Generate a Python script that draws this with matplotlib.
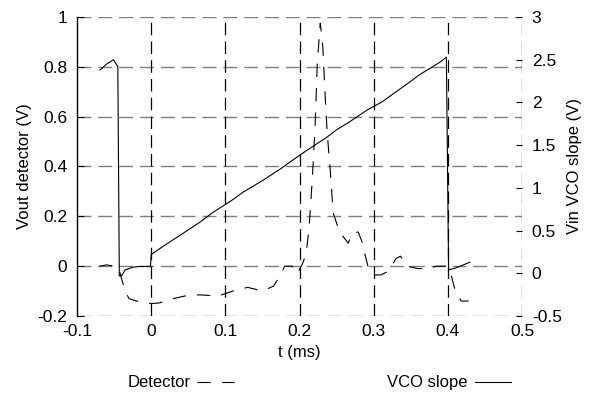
#!/usr/bin/env python3
import matplotlib as mpl
mpl.use('Agg')
import matplotlib.pyplot as plt
import numpy as np

mpl.rcParams['font.family'] = ['Liberation Sans', 'DejaVu Sans']

# detector output (left axis, V) vs time (ms)
det_t = [-0.070, -0.060, -0.050, -0.044, -0.040, -0.035, -0.030, -0.020, -0.010, 0.000,
         0.010, 0.020, 0.030, 0.045, 0.065, 0.090, 0.110, 0.130, 0.150, 0.165,
         0.174, 0.180, 0.190, 0.197, 0.204, 0.209, 0.213, 0.217, 0.221, 0.224,
         0.228, 0.2315, 0.2346, 0.237, 0.240, 0.2414, 0.2454, 0.2508, 0.2575, 0.2656,
         0.271, 0.279, 0.2845, 0.2885, 0.2926, 0.299, 0.310, 0.320, 0.330, 0.336,
         0.345, 0.360, 0.372, 0.385, 0.398, 0.404, 0.410, 0.418, 0.428]
det_v = [0.000, 0.005, 0.000, -0.005, -0.050, -0.100, -0.130, -0.140, -0.145, -0.150,
         -0.148, -0.140, -0.130, -0.120, -0.115, -0.120, -0.100, -0.085, -0.100, -0.080,
         -0.036, 0.000, 0.000, -0.030, 0.010, 0.050, 0.160, 0.340, 0.560, 0.820,
         0.975, 0.875, 0.680, 0.550, 0.434, 0.386, 0.213, 0.165, 0.124, 0.092,
         0.133, 0.137, 0.096, 0.044, -0.004, -0.036, -0.035, -0.020, 0.030, 0.040,
         0.000, -0.010, -0.010, 0.000, 0.000, -0.030, -0.100, -0.140, -0.140]

# VCO slope input (right axis, V) vs time (ms)
vco_t = [-0.069, -0.060, -0.051, -0.045, -0.043, -0.040, -0.035, -0.025, -0.015, -0.001,
         0.000, 0.022, 0.039, 0.066, 0.082, 0.109, 0.124, 0.151, 0.174, 0.190,
         0.205, 0.224, 0.235, 0.250, 0.267, 0.291, 0.311, 0.352, 0.361, 0.380,
         0.390, 0.398, 0.401, 0.410, 0.420, 0.4295]
vco_v = [2.38, 2.45, 2.50, 2.42, -0.03, -0.03, 0.04, 0.07, 0.08, 0.08,
         0.22, 0.35, 0.445, 0.60, 0.705, 0.856, 0.95, 1.09, 1.22, 1.32,
         1.41, 1.52, 1.58, 1.68, 1.77, 1.91, 2.005, 2.26, 2.32, 2.42,
         2.475, 2.53, 0.04, 0.06, 0.095, 0.13]

fig = plt.figure(figsize=(5.99, 3.94), dpi=100)
ax = fig.add_axes([0.1286, 0.198, 0.7429, 0.7589])
ax2 = ax.twinx()

grid_dash = (0, (10, 5))
ax.set_xlim(-0.1, 0.5)
ax.set_ylim(-0.2, 1.0)
ax2.set_ylim(-0.5, 3.0)
ax.set_xticks(np.arange(-0.1, 0.51, 0.1))
ax.set_xticklabels(['-0.1', '0', '0.1', '0.2', '0.3', '0.4', '0.5'])
ax.set_yticks(np.arange(-0.2, 1.01, 0.2))
ax.set_yticklabels(['-0.2', '0', '0.2', '0.4', '0.6', '0.8', '1'])
ax2.set_yticks(np.arange(-0.5, 3.01, 0.5))
ax2.set_yticklabels(['-0.5', '0', '0.5', '1', '1.5', '2', '2.5', '3'])

# grid: gray horizontal, black vertical
for y in np.arange(-0.2, 1.01, 0.2):
    ax.axhline(y, color='#7f7f7f', lw=1.0, ls=grid_dash, zorder=0)
for x in np.arange(0.0, 0.51, 0.1):
    ax.axvline(x, color='black', lw=0.9, ls=grid_dash, zorder=0)

for s in ['top', 'right', 'bottom']:
    ax.spines[s].set_visible(False)
    ax2.spines[s].set_visible(False)
ax2.spines['left'].set_visible(False)
ax.spines['left'].set_linewidth(1.0)

ax.tick_params(axis='y', direction='in', length=5, labelsize=12.5, pad=7)
ax.tick_params(axis='x', length=0, labelsize=12.5, pad=6)
ax2.tick_params(axis='y', direction='in', length=4, labelsize=12.5, pad=7)

ax.plot(det_t, det_v, color='black', lw=0.8, ls=(0, (12, 10)), label='Detector')
ax2.plot(vco_t, vco_v, color='black', lw=0.8, label='VCO slope')

ax.set_xlabel('t (ms)', fontsize=12)
ax.set_ylabel('Vout detector (V)', fontsize=12)
ax2.set_ylabel('Vin VCO slope (V)', fontsize=12)

h1, l1 = ax.get_legend_handles_labels()
h2, l2 = ax2.get_legend_handles_labels()
fig.legend(h1 + h2, l1 + l2, loc='center left', bbox_to_anchor=(0.188, 0.028), ncol=2,
           frameon=False, markerfirst=False, fontsize=12, handlelength=2.2,
           columnspacing=9.2, handletextpad=0.4)

plt.savefig('out.png', dpi=100)
